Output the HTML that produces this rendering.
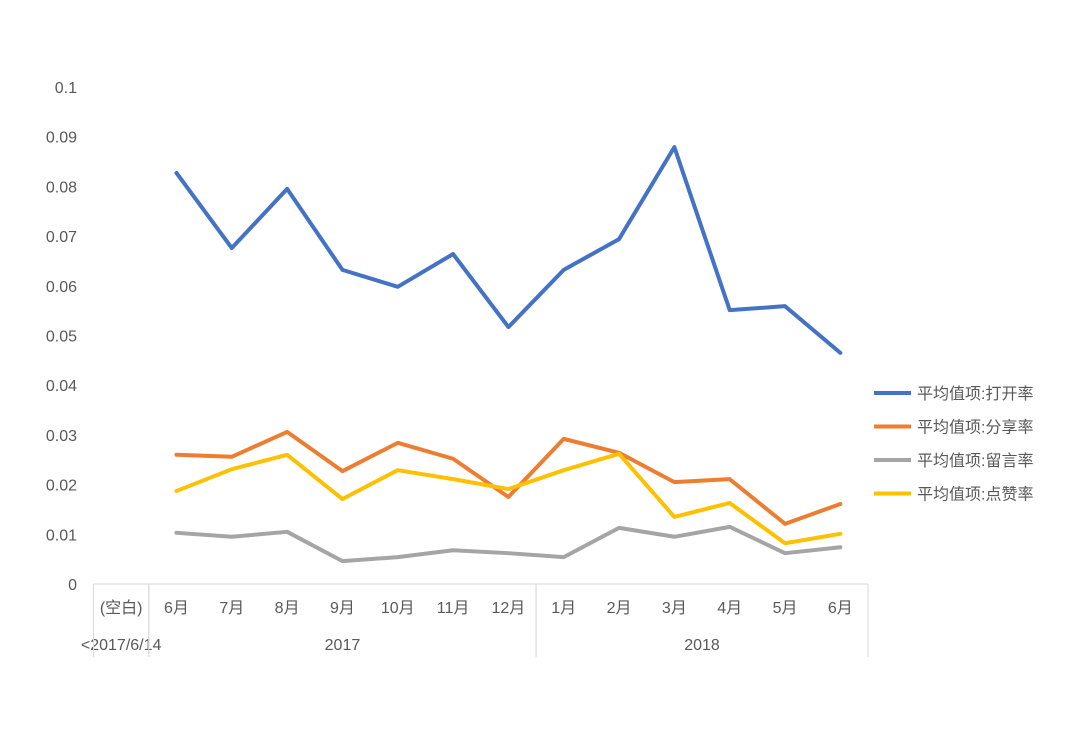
<!DOCTYPE html>
<html><head><meta charset="utf-8"><style>
body{margin:0;background:#fff;}
svg text{font-family:"Liberation Sans","Noto Sans CJK SC",sans-serif;font-size:16px;fill:#595959;}
</style></head><body>
<svg id="chart" width="1071" height="748" xmlns="http://www.w3.org/2000/svg">
<g id="axes"></g><g id="series"></g><g id="legend"></g>
</svg>
<script>
const categories=["(空白)","6月","7月","8月","9月","10月","11月","12月","1月","2月","3月","4月","5月","6月"];
const openRate=[null,0.0827,0.0676,0.0795,0.0632,0.0598,0.0664,0.0517,0.0632,0.0694,0.0879,0.0551,0.0559,0.0465];
const shareRate=[null,0.0260,0.0256,0.0306,0.0227,0.0284,0.0252,0.0175,0.0292,0.0264,0.0205,0.0211,0.0121,0.0161];
const commentRate=[null,0.0103,0.0095,0.0105,0.0046,0.0054,0.0068,0.0062,0.0054,0.0113,0.0095,0.0115,0.0062,0.0074];
const likeRate=[null,0.0187,0.0231,0.0260,0.0171,0.0229,0.0211,0.0191,0.0229,0.0262,0.0135,0.0163,0.0082,0.0101];
const yTicks=[0,0.01,0.02,0.03,0.04,0.05,0.06,0.07,0.08,0.09,0.1];
const yTickLabels=["0","0.01","0.02","0.03","0.04","0.05","0.06","0.07","0.08","0.09","0.1"];
const groups=[{label:"<2017/6/14",from:0,to:0},{label:"2017",from:1,to:7},{label:"2018",from:8,to:13}];
const seriesNames=["平均值项:打开率","平均值项:分享率","平均值项:留言率","平均值项:点赞率"];
const seriesColors=["#4472c4","#ed7d31","#a5a5a5","#ffc000"];
const seriesData=[openRate,shareRate,commentRate,likeRate];

const NS="http://www.w3.org/2000/svg";
const L=93.5,R=868,Y0=584,Y1=87,ymax=0.1;
const bw=(R-L)/categories.length;
const x=i=>L+bw*(i+0.5);
const y=v=>Y0-(v/ymax)*(Y0-Y1);
function mk(tag,attrs,parent,text){const e=document.createElementNS(NS,tag);for(const k in attrs)e.setAttribute(k,attrs[k]);if(text!==undefined)e.textContent=text;parent.appendChild(e);return e;}
const axes=document.getElementById('axes');
yTicks.forEach((t,i)=>{
 const e=mk('text',{x:77,y:y(t)+6,'text-anchor':'end'},axes,yTickLabels[i]);
 
 
});
const ax=mk('line',{x1:L,y1:Y0,x2:R,y2:Y0,stroke:'#d9d9d9','stroke-width':1},axes);


categories.forEach((c,i)=>{
 const e=mk('text',{x:x(i),y:613,'text-anchor':'middle'},axes,c);
 
 
});
groups.forEach(g=>{
 const l=L+bw*g.from, r=L+bw*(g.to+1);
 const e=mk('text',{x:(l+r)/2,y:650,'text-anchor':'middle'},axes,g.label);
 
 
 [l,r].forEach(xx=>{
  const s=mk('line',{x1:xx,y1:Y0,x2:xx,y2:657,stroke:'#d9d9d9','stroke-width':1},axes);
  
  
 });
});
const sg=document.getElementById('series');
seriesData.forEach((d,si)=>{
 const pts=[];d.forEach((v,i)=>{if(v!==null)pts.push(x(i)+','+y(v));});
 const p=mk('polyline',{points:pts.join(' '),fill:'none',stroke:seriesColors[si],'stroke-width':4,'stroke-linejoin':'round','stroke-linecap':'round'},sg);
 
 
});
const lg=document.getElementById('legend');
seriesNames.forEach((n,i)=>{
 const yy=393+i*33.5;
 const g=mk('g',{},lg);
 
 
 mk('line',{x1:874,y1:yy,x2:911,y2:yy,stroke:seriesColors[i],'stroke-width':4},g);
 mk('text',{x:917,y:yy+6},g,n);
});
</script>
</body></html>
